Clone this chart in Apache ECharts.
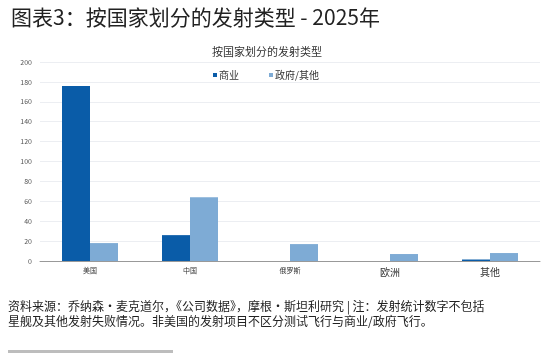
<!DOCTYPE html>
<html>
<head>
<meta charset="utf-8">
<script src="https://cdn.jsdelivr.net/npm/echarts@6/dist/echarts.min.js"></script>
<style>
  html, body { margin: 0; padding: 0; background: #fff; }
  #chart { width: 545px; height: 353px; }
</style>
</head>
<body>
<div id="chart"></div>
<script>
// 数据
const countries = ["美国", "中国", "俄罗斯", "欧洲", "其他"];
const commercial = [176, 26, 0, 0, 1.5];
const government = [18, 64, 17, 7, 8];
const yTicks = [0, 20, 40, 60, 80, 100, 120, 140, 160, 180, 200];

const chart = echarts.init(document.getElementById("chart"));
const cjk = "'Noto Sans CJK SC', 'Noto Sans', sans-serif";

chart.setOption({
  animation: false,
  textStyle: { fontFamily: cjk },
  title: [
    {
      text: "图表3：按国家划分的发射类型 - 2025年",
      left: 6,
      top: 2,
      textStyle: { fontSize: 21, fontWeight: "normal", color: "#222", fontFamily: cjk },
    },
    {
      text: "按国家划分的发射类型",
      left: 262,
      textAlign: "center",
      top: 41,
      textStyle: { fontSize: 11, fontWeight: "normal", color: "#333", fontFamily: cjk },
    },
  ],
  legend: {
    left: 208,
    top: 65,
    icon: "rect",
    itemWidth: 4,
    itemHeight: 4,
    itemGap: 30,
    textStyle: { fontSize: 10, color: "#333", padding: [0, 0, 0, -3] },
    data: ["商业", "政府/其他"],
  },
  grid: { left: 40, right: 5, top: 62, bottom: 92 },
  xAxis: {
    type: "category",
    data: countries,
    axisTick: { show: false },
    axisLine: { lineStyle: { color: "#999", width: 1 } },
    axisLabel: {
      interval: 0,
      margin: 6,
      color: "#333",
      formatter: function (v, i) {
        return i >= 3 ? "{big|" + v + "}" : "{small|" + v + "}";
      },
      rich: {
        small: { fontSize: 7, color: "#333" },
        big: { fontSize: 10, color: "#333" },
      },
    },
  },
  yAxis: {
    type: "value",
    min: yTicks[0],
    max: yTicks[yTicks.length - 1],
    interval: 20,
    axisLine: { show: false },
    axisTick: { show: false },
    axisLabel: { fontSize: 7, color: "#555", margin: 8 },
    splitLine: { lineStyle: { color: "#eceef2", width: 1 } },
  },
  series: [
    {
      name: "商业",
      type: "bar",
      data: commercial,
      barWidth: 28,
      barGap: "0%",
      itemStyle: { color: "#0a5ca8" },
    },
    {
      name: "政府/其他",
      type: "bar",
      data: government,
      barWidth: 28,
      itemStyle: { color: "#7eabd5" },
    },
  ],
  graphic: [
    {
      type: "text",
      left: 8,
      top: 299,
      style: {
        text: "资料来源：乔纳森·麦克道尔，《公司数据》，摩根·斯坦利研究 | 注：发射统计数字不包括\n星舰及其他发射失败情况。非美国的发射项目不区分测试飞行与商业/政府飞行。",
        fontSize: 12,
        lineHeight: 15,
        fill: "#222",
        fontFamily: cjk,
      },
    },
    {
      type: "rect",
      shape: { x: 8, y: 350, width: 165, height: 3 },
      style: { fill: "#bdbdbd" },
    },
  ],
});
</script>
</body>
</html>
